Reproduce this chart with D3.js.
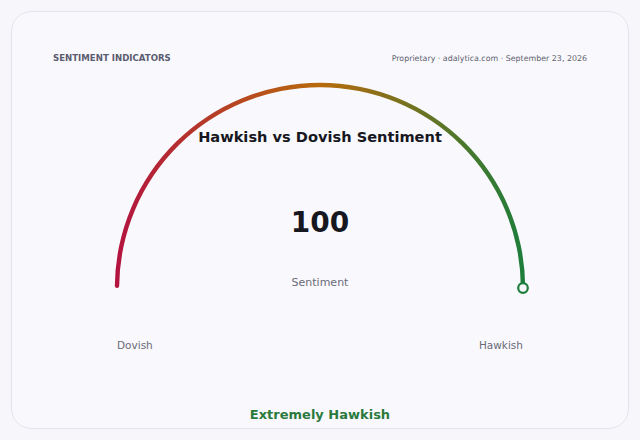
<!DOCTYPE html>
<html>
<head>
<meta charset="utf-8">
<script src="https://cdn.jsdelivr.net/npm/d3@7"></script>
<style>
  html, body { margin: 0; padding: 0; background: #f7f7fb; }
  body { width: 640px; height: 440px; overflow: hidden; }
  svg text { font-family: "DejaVu Sans", sans-serif; }
</style>
</head>
<body>
<div id="chart"></div>
<script>
// gauge data
const gaugeDomain = [0, 100];
const gaugeValue = [100];
const endLabels = ["Dovish", "Hawkish"];
const headerTexts = ["SENTIMENT INDICATORS", "Proprietary · adalytica.com · September 23, 2026"];
const titleText = "Hawkish vs Dovish Sentiment";
const valueCaption = "Sentiment";
const verdict = "Extremely Hawkish";
const gradientColors = ["#b3143f", "#b86a0c", "#1e7d3a"];

const width = 640;
const height = 440;
const cx = 320, cy = 288, radius = 203;

const svg = d3.select("#chart")
    .append("svg")
    .attr("width", width)
    .attr("height", height);

// card
svg.append("rect")
    .attr("x", 11.5).attr("y", 11.5)
    .attr("width", 617).attr("height", 417)
    .attr("rx", 20)
    .attr("fill", "#f9f9fd")
    .attr("stroke", "#e3e3ec");

// header
svg.append("text")
    .attr("x", 53).attr("y", 61)
    .attr("font-size", 8.6).attr("font-weight", "bold")
    .attr("fill", "#5c5c70")
    .text(headerTexts[0]);

svg.append("text")
    .attr("x", 587).attr("y", 61)
    .attr("text-anchor", "end")
    .attr("font-size", 7.9)
    .attr("fill", "#5e5e6e")
    .text(headerTexts[1]);

// gradient along x, in the gauge group's coordinates
const grad = svg.append("defs").append("linearGradient")
    .attr("id", "arcGrad")
    .attr("gradientUnits", "userSpaceOnUse")
    .attr("x1", -radius).attr("x2", radius)
    .attr("y1", 0).attr("y2", 0);
grad.selectAll("stop")
    .data(gradientColors)
    .enter()
    .append("stop")
    .attr("offset", (d, i) => i / (gradientColors.length - 1))
    .attr("stop-color", d => d);

const angle = d3.scaleLinear().domain(gaugeDomain).range([-Math.PI / 2, Math.PI / 2]);

const arc = d3.arc()
    .innerRadius(radius - 2.2)
    .outerRadius(radius + 2.2)
    .cornerRadius(2.2);

const g = svg.append("g").attr("transform", `translate(${cx},${cy})`);

g.append("path")
    .attr("d", arc({ startAngle: angle(gaugeDomain[0]), endAngle: angle(gaugeValue[0]) }))
    .attr("fill", "url(#arcGrad)");

// value marker
g.selectAll(".marker")
    .data(gaugeValue)
    .enter()
    .append("circle")
    .attr("class", "marker")
    .attr("cx", d => radius * Math.sin(angle(d)))
    .attr("cy", d => -radius * Math.cos(angle(d)))
    .attr("r", 4.8)
    .attr("fill", "#f9f9fd")
    .attr("stroke", "#1e7d3a")
    .attr("stroke-width", 2.2);

// texts
svg.append("text")
    .attr("x", cx).attr("y", 142)
    .attr("text-anchor", "middle")
    .attr("font-size", 14.6).attr("font-weight", "bold")
    .attr("fill", "#17171f")
    .text(titleText);

svg.append("text")
    .attr("x", cx).attr("y", 232)
    .attr("text-anchor", "middle")
    .attr("font-size", 28).attr("font-weight", "bold")
    .attr("fill", "#17171f")
    .text(gaugeValue[0]);

svg.append("text")
    .attr("x", cx).attr("y", 286)
    .attr("text-anchor", "middle")
    .attr("font-size", 11)
    .attr("fill", "#6a6a78")
    .text(valueCaption);

svg.selectAll(".end-label")
    .data(endLabels)
    .enter()
    .append("text")
    .attr("class", "end-label")
    .attr("x", (d, i) => cx + radius * Math.sin(angle(gaugeDomain[i])))
    .attr("y", 349)
    .attr("text-anchor", (d, i) => i === 0 ? "start" : "end")
    .attr("font-size", 10.5)
    .attr("fill", "#6a6a78")
    .text(d => d);

svg.append("text")
    .attr("x", cx).attr("y", 419)
    .attr("text-anchor", "middle")
    .attr("font-size", 13).attr("font-weight", "bold")
    .attr("fill", "#2b7a3d")
    .text(verdict);
</script>
</body>
</html>
